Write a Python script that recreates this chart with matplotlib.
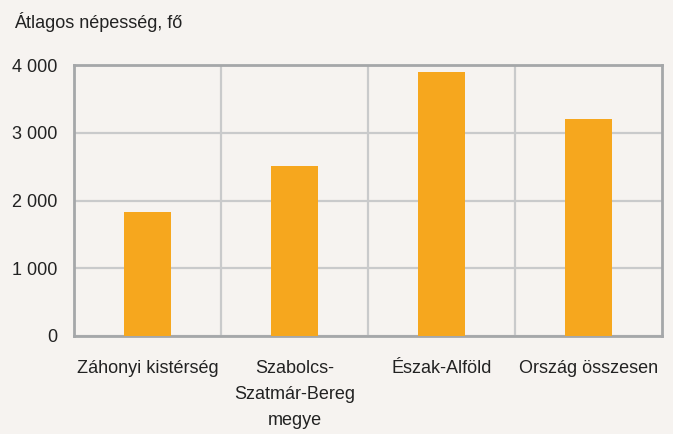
import matplotlib
matplotlib.use("Agg")
import matplotlib.pyplot as plt
from matplotlib import font_manager
import numpy as np

categories = ["Záhonyi kistérség", "Szabolcs-\nSzatmár-Bereg\nmegye", "Észak-Alföld", "Ország összesen"]
values = [1830, 2510, 3900, 3200]
yticks = [0, 1000, 2000, 3000, 4000]
ytick_labels = ["0", "1 000", "2 000", "3 000", "4 000"]
ylabel = "Átlagos népesség, fő"

names = {f.name for f in font_manager.fontManager.ttflist}
fam = "Liberation Sans Narrow" if "Liberation Sans Narrow" in names else "Liberation Sans"
plt.rcParams['font.family'] = [fam, 'DejaVu Sans']

fig = plt.figure(figsize=(6.73, 4.34), dpi=100)
fig.patch.set_facecolor("#f6f3f0")
W, H = 673, 434
ax = fig.add_axes([74/W, 1-336/H, (662-74)/W, (336-65)/H])
ax.set_facecolor("#f6f3f0")

x = np.arange(len(categories))
ax.bar(x, values, width=0.32, color="#f6a71e", zorder=3)
ax.set_xlim(-0.5, len(categories)-0.5)
ax.set_ylim(0, 4000)
ax.set_yticks(yticks)
ax.set_yticklabels(ytick_labels, fontsize=13, color="#222222")
ax.set_xticks(x)
ax.set_xticklabels(categories, fontsize=13, color="#222222", linespacing=1.7, va="top")
ax.tick_params(axis="both", length=0)
ax.tick_params(axis="y", pad=12)
ax.tick_params(axis="x", pad=17)

ax.yaxis.grid(True, color="#c9cacb", linewidth=1.6, zorder=1)
for b in np.arange(0.5, len(categories)-0.5, 1):
    ax.axvline(b, color="#c9cacb", linewidth=1.6, zorder=1)
for s in ax.spines.values():
    s.set_color("#a5a7a9")
    s.set_linewidth(2)

fig.text(14/W, 1-22/H, ylabel, fontsize=13, color="#222222", ha="left", va="center")

fig.savefig("out.png", dpi=100, facecolor=fig.get_facecolor())
